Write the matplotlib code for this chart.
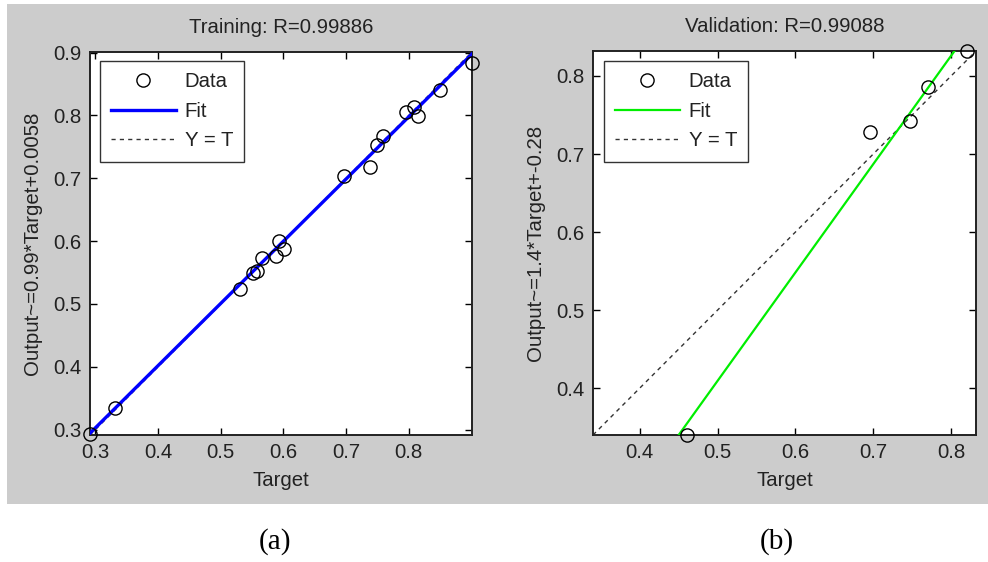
import numpy as np
import matplotlib
matplotlib.use("Agg")
import matplotlib.pyplot as plt
from matplotlib.patches import Rectangle

plt.rcParams['font.family'] = ['Liberation Sans', 'DejaVu Sans']

# Training set: targets and network outputs
train_target = [0.2915, 0.331, 0.531, 0.552, 0.558, 0.566, 0.588, 0.5925, 0.6005,
                0.696, 0.738, 0.7496, 0.759, 0.7963, 0.809, 0.815, 0.8506, 0.901]
train_output = [0.2935, 0.335, 0.524, 0.550, 0.553, 0.573, 0.577, 0.601, 0.588,
                0.704, 0.718, 0.753, 0.768, 0.805, 0.813, 0.799, 0.841, 0.884]
train_fit = (0.99, 0.0058)
train_R = 0.99886

# Validation set
val_target = [0.4605, 0.6955, 0.7466, 0.770, 0.821]
val_output = [0.340, 0.7277, 0.7417, 0.786, 0.832]
val_fit = (1.3885, -0.2849)
val_R = 0.99088

panels = [
    dict(title="Training", t=train_target, y=train_output, fit=train_fit, R=train_R,
         color="#0000ff", lw=2.4, rect=[90, 52, 472, 435],
         xticks=[0.3, 0.4, 0.5, 0.6, 0.7, 0.8], yticks=[0.3, 0.4, 0.5, 0.6, 0.7, 0.8, 0.9],
         legend_xy=(100, 61), caption="(a)", cap_x=275),
    dict(title="Validation", t=val_target, y=val_output, fit=val_fit, R=val_R,
         color="#00ee00", lw=1.6, rect=[593, 51, 976, 435],
         xticks=[0.4, 0.5, 0.6, 0.7, 0.8], yticks=[0.4, 0.5, 0.6, 0.7, 0.8],
         legend_xy=(604, 61), caption="(b)", cap_x=777),
]

W, H = 988, 562
fig = plt.figure(figsize=(W / 100, H / 100), dpi=100, facecolor="white")

# grey figure background behind both panels
fig.patches.append(Rectangle((7 / W, 1 - 504 / H), (W - 7) / W, 500 / H,
                             transform=fig.transFigure, facecolor="#cccccc",
                             edgecolor="none", zorder=-10))

def fmt(v):
    return "%.2g" % v

for p in panels:
    x0, y0, x1, y1 = p["rect"]
    ax = fig.add_axes([x0 / W, 1 - y1 / H, (x1 - x0) / W, (y1 - y0) / H])
    ax.set_facecolor("white")
    t = np.array(p["t"])
    y = np.array(p["y"])
    lo = min(t.min(), y.min())
    hi = max(t.max(), y.max())
    grid = np.array([lo, hi])
    m, b = p["fit"]

    ax.plot(t, y, "o", mfc="none", mec="black", ms=9.5, mew=1.0, label="Data",
            zorder=4, clip_on=False)
    ax.plot(grid, m * grid + b, color=p["color"], lw=p["lw"], label="Fit", zorder=3)
    ax.plot(grid, grid, color="#333333", lw=1.0, ls=(0, (3, 3)), label="Y = T", zorder=2)

    ax.set_xlim(lo, hi)
    ax.set_ylim(lo, hi)
    ax.set_xticks(p["xticks"])
    ax.set_yticks(p["yticks"])
    ax.set_xticklabels([f"{v:g}" for v in p["xticks"]])
    ax.set_yticklabels([f"{v:g}" for v in p["yticks"]])
    ax.tick_params(direction="in", length=5, width=1, top=True, right=True,
                   labelsize=14.7, colors="black", labelcolor="#222222", pad=6)
    for s in ax.spines.values():
        s.set_linewidth(1.4)
        s.set_color("#222222")

    ax.set_title(f"{p['title']}: R={p['R']:.5f}", fontsize=14.7, color="#222222", pad=14)
    ax.set_xlabel("Target", fontsize=14.7, color="#222222", labelpad=6)
    ax.set_ylabel(f"Output~={fmt(m)}*Target+{fmt(b)}", fontsize=14.7,
                  color="#222222", labelpad=8)

    lx, ly = p["legend_xy"]
    leg = ax.legend(loc="upper left",
                    bbox_to_anchor=((lx - x0) / (x1 - x0), 1 - (ly - y0) / (y1 - y0)),
                    fontsize=14.7, frameon=True, fancybox=False, borderaxespad=0,
                    handlelength=3.15, handletextpad=0.45, labelspacing=0.52,
                    borderpad=0.55, edgecolor="black")
    leg.get_frame().set_linewidth(1.0)
    for txt in leg.get_texts():
        txt.set_color("#222222")

    fig.text(p["cap_x"] / W, 1 - 542 / H, p["caption"], ha="center", va="center",
             fontsize=21, family="Liberation Serif", color="black")

fig.savefig("out.png", dpi=100, facecolor="white")
